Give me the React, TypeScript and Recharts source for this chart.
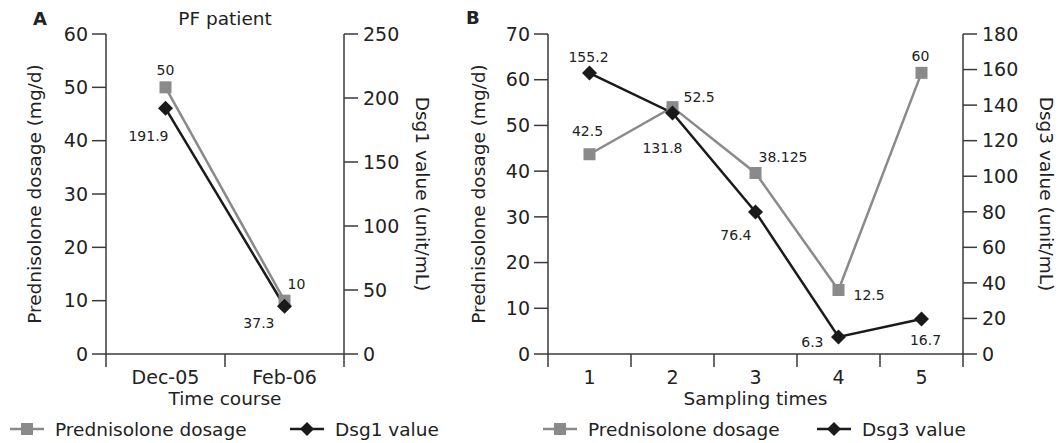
import { Line, LineChart, XAxis, YAxis } from "recharts"

// panel A — PF patient
const timeCourse = ["Dec-05", "Feb-06"]
const prednisoloneA = [50, 10]
const dsg1 = [191.9, 37.3]
const prednisoloneLabelsA = ["50", "10"]
const dsg1Labels = ["191.9", "37.3"]
const leftTicksA = [0, 10, 20, 30, 40, 50, 60]
const rightTicksA = [0, 50, 100, 150, 200, 250]

// panel B — sampling times
const samplingTimes = ["1", "2", "3", "4", "5"]
const prednisoloneB = [43.7, 54, 39.6, 14, 61.5]
const dsg3 = [158, 135.6, 79.9, 9.6, 19.7]
const prednisoloneLabelsB = ["42.5", "52.5", "38.125", "12.5", "60"]
const dsg3Labels = ["155.2", "131.8", "76.4", "6.3", "16.7"]
const leftTicksB = [0, 10, 20, 30, 40, 50, 60, 70]
const rightTicksB = [0, 20, 40, 60, 80, 100, 120, 140, 160, 180]

type Anchor = "start" | "middle" | "end"
type Place = [number, number, Anchor]

// where each value label sits relative to its marker
const placePredA: Place[] = [[0, -17, "middle"], [3, -17, "start"]]
const placeDsg1: Place[] = [[3, 28, "end"], [-10, 17, "end"]]
const placePredB: Place[] = [
  [-2, -23, "middle"],
  [11, -10, "start"],
  [3, -16, "start"],
  [15, 5, "start"],
  [-1, -17, "middle"],
]
const placeDsg3: Place[] = [
  [-1, -16, "middle"],
  [10, 35, "end"],
  [-4, 23, "end"],
  [-15, 5, "end"],
  [4, 21, "middle"],
]

const GRAY = "#8a8a8a"
const BLACK = "#1a1a1a"
const AXIS = "#3a3a3a"
const TEXT = "#222"
const FONT = "DejaVu Sans"

const tickStyle = { fill: TEXT, fontSize: 19, fontFamily: FONT }

function makeDot(shape: "square" | "diamond", labels: string[], places: Place[]) {
  return (props: any) => {
    const { cx, cy, index } = props
    if (cx == null || cy == null) return <g key={`d-${index}`} />
    const [dx, dy, anchor] = places[index] ?? [0, -16, "middle"]
    return (
      <g key={`d-${index}`}>
        {shape === "square" ? (
          <rect x={cx - 6} y={cy - 6} width={12} height={12} fill={GRAY} />
        ) : (
          <polygon
            points={`${cx},${cy - 7.5} ${cx + 7.5},${cy} ${cx},${cy + 7.5} ${cx - 7.5},${cy}`}
            fill={BLACK}
          />
        )}
        <text
          x={cx + dx}
          y={cy + dy}
          textAnchor={anchor}
          dominantBaseline="central"
          fontSize={14}
          fontFamily={FONT}
          fill={TEXT}
        >
          {labels[index]}
        </text>
      </g>
    )
  }
}

function makeCategoryTick(categories: string[]) {
  return (props: any) => {
    const { x, y, payload } = props
    const v = payload.value
    if (Number.isInteger(v)) {
      return (
        <text x={x} y={y + 30} textAnchor="middle" fontSize={19} fontFamily={FONT} fill={TEXT}>
          {categories[v - 1]}
        </text>
      )
    }
    return <line x1={x} x2={x} y1={y} y2={y + 13} stroke={AXIS} strokeWidth={1.5} />
  }
}

function leftTitle(text: string, offset: number) {
  return (props: any) => {
    const { x, y, width, height } = props.viewBox
    const cx = x + width - offset
    const cy = y + height / 2
    return (
      <text
        x={cx}
        y={cy}
        transform={`rotate(-90 ${cx} ${cy})`}
        textAnchor="middle"
        dominantBaseline="central"
        fontSize={18.5}
        fontFamily={FONT}
        fill={TEXT}
      >
        {text}
      </text>
    )
  }
}

function rightTitle(text: string, offset: number) {
  return (props: any) => {
    const { x, y, height } = props.viewBox
    const cx = x + offset
    const cy = y + height / 2
    return (
      <text
        x={cx}
        y={cy}
        transform={`rotate(90 ${cx} ${cy})`}
        textAnchor="middle"
        dominantBaseline="central"
        fontSize={18.5}
        fontFamily={FONT}
        fill={TEXT}
      >
        {text}
      </text>
    )
  }
}

function bottomTitle(text: string) {
  return (props: any) => {
    const { x, y, width } = props.viewBox
    return (
      <text x={x + width / 2} y={y + 51} textAnchor="middle" fontSize={18.5} fontFamily={FONT} fill={TEXT}>
        {text}
      </text>
    )
  }
}

interface PanelProps {
  left: number
  width: number
  margin: { top: number; right: number; left: number; bottom: number }
  leftAxisWidth: number
  rightAxisWidth: number
  categories: string[]
  pred: number[]
  dsg: number[]
  predLabels: string[]
  dsgLabels: string[]
  predPlaces: Place[]
  dsgPlaces: Place[]
  leftTicks: number[]
  rightTicks: number[]
  leftLabel: string
  rightLabel: string
  xLabel: string
  leftTitleOffset: number
  rightTitleOffset: number
}

function Panel(p: PanelProps) {
  const data = p.categories.map((_, i) => ({ x: i + 1, pred: p.pred[i], dsg: p.dsg[i] }))
  const n = p.categories.length
  const xTicks: number[] = []
  for (let i = 0; i <= 2 * n; i++) xTicks.push(0.5 + i / 2)

  return (
    <div style={{ position: "absolute", left: p.left, top: 0 }}>
      <LineChart width={p.width} height={443} data={data} margin={p.margin}>
        <XAxis
          type="number"
          dataKey="x"
          domain={[0.5, n + 0.5]}
          ticks={xTicks}
          interval={0}
          height={30}
          tickSize={0}
          tickMargin={0}
          tickLine={false}
          axisLine={{ stroke: AXIS, strokeWidth: 1.5 }}
          tick={makeCategoryTick(p.categories)}
          label={bottomTitle(p.xLabel)}
        />
        <YAxis
          yAxisId="left"
          orientation="left"
          type="number"
          domain={[0, p.leftTicks[p.leftTicks.length - 1]]}
          ticks={p.leftTicks}
          interval={0}
          width={p.leftAxisWidth}
          tickSize={14}
          tickMargin={4}
          tick={tickStyle}
          axisLine={{ stroke: AXIS, strokeWidth: 1.5 }}
          tickLine={{ stroke: AXIS, strokeWidth: 1.5 }}
          label={leftTitle(p.leftLabel, p.leftTitleOffset)}
        />
        <YAxis
          yAxisId="right"
          orientation="right"
          type="number"
          domain={[0, p.rightTicks[p.rightTicks.length - 1]]}
          ticks={p.rightTicks}
          interval={0}
          width={p.rightAxisWidth}
          tickSize={14}
          tickMargin={5}
          tick={tickStyle}
          axisLine={{ stroke: AXIS, strokeWidth: 1.5 }}
          tickLine={{ stroke: AXIS, strokeWidth: 1.5 }}
          label={rightTitle(p.rightLabel, p.rightTitleOffset)}
        />
        <Line
          yAxisId="left"
          type="linear"
          dataKey="pred"
          stroke={GRAY}
          strokeWidth={2.5}
          dot={makeDot("square", p.predLabels, p.predPlaces)}
          activeDot={false}
          isAnimationActive={false}
        />
        <Line
          yAxisId="right"
          type="linear"
          dataKey="dsg"
          stroke={BLACK}
          strokeWidth={2.5}
          dot={makeDot("diamond", p.dsgLabels, p.dsgPlaces)}
          activeDot={false}
          isAnimationActive={false}
        />
      </LineChart>
    </div>
  )
}

function LegendItem({ x, text, shape }: { x: number; text: string; shape: "square" | "diamond" }) {
  const y = 429
  const c = x + 17
  return (
    <g>
      <line x1={x} x2={x + 34} y1={y} y2={y} stroke={shape === "square" ? GRAY : BLACK} strokeWidth={2.5} />
      {shape === "square" ? (
        <rect x={c - 6} y={y - 6} width={12} height={12} fill={GRAY} />
      ) : (
        <polygon points={`${c},${y - 7} ${c + 7},${y} ${c},${y + 7} ${c - 7},${y}`} fill={BLACK} />
      )}
      <text x={x + 45} y={436} fontSize={18.5} fontFamily={FONT} fill={TEXT}>
        {text}
      </text>
    </g>
  )
}

export default function App() {
  return (
    <div style={{ position: "absolute", left: 0, top: 0, width: 1058, height: 443, background: "#fff" }}>
      <Panel
        left={0}
        width={460}
        margin={{ top: 34, right: 16, left: 16, bottom: 59 }}
        leftAxisWidth={90}
        rightAxisWidth={100}
        categories={timeCourse}
        pred={prednisoloneA}
        dsg={dsg1}
        predLabels={prednisoloneLabelsA}
        dsgLabels={dsg1Labels}
        predPlaces={placePredA}
        dsgPlaces={placeDsg1}
        leftTicks={leftTicksA}
        rightTicks={rightTicksA}
        leftLabel="Prednisolone dosage (mg/d)"
        rightLabel="Dsg1 value (unit/mL)"
        xLabel="Time course"
        leftTitleOffset={72}
        rightTitleOffset={78}
      />
      <Panel
        left={440}
        width={618}
        margin={{ top: 34, right: 15, left: 18, bottom: 59 }}
        leftAxisWidth={90}
        rightAxisWidth={80}
        categories={samplingTimes}
        pred={prednisoloneB}
        dsg={dsg3}
        predLabels={prednisoloneLabelsB}
        dsgLabels={dsg3Labels}
        predPlaces={placePredB}
        dsgPlaces={placeDsg3}
        leftTicks={leftTicksB}
        rightTicks={rightTicksB}
        leftLabel="Prednisolone dosage (mg/d)"
        rightLabel="Dsg3 value (unit/mL)"
        xLabel="Sampling times"
        leftTitleOffset={70}
        rightTitleOffset={83}
      />
      <svg
        width={1058}
        height={443}
        style={{ position: "absolute", left: 0, top: 0, pointerEvents: "none" }}
      >
        <text x={33} y={25} fontSize={18} fontWeight="bold" fontFamily={FONT} fill={TEXT}>
          A
        </text>
        <text x={225} y={25} textAnchor="middle" fontSize={18.5} fontFamily={FONT} fill={TEXT}>
          PF patient
        </text>
        <text x={466} y={24} fontSize={18} fontWeight="bold" fontFamily={FONT} fill={TEXT}>
          B
        </text>
        <LegendItem x={10} text="Prednisolone dosage" shape="square" />
        <LegendItem x={290} text="Dsg1 value" shape="diamond" />
        <LegendItem x={543} text="Prednisolone dosage" shape="square" />
        <LegendItem x={817} text="Dsg3 value" shape="diamond" />
      </svg>
    </div>
  )
}
